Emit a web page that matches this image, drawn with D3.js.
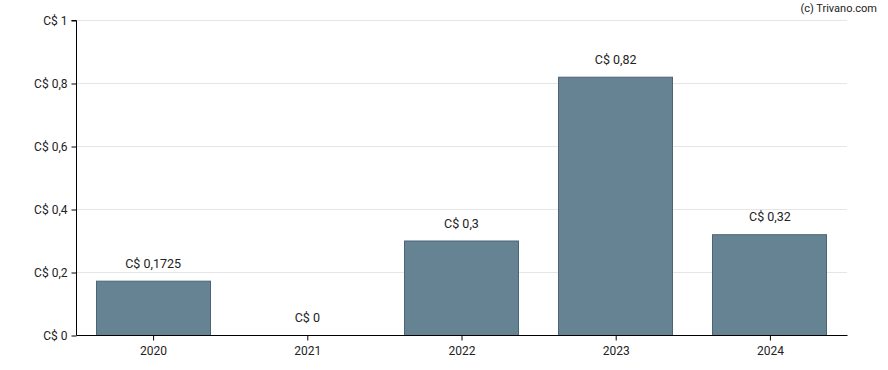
<!DOCTYPE html>
<html>
<head>
<meta charset="utf-8">
<script src="https://cdn.jsdelivr.net/npm/d3@7/dist/d3.min.js"></script>
<style>
	body { margin: 0; background: #fff; }
	text { font-family: Roboto, sans-serif; }
</style>
</head>
<body>
<svg id="chart" width="888" height="370"></svg>
<script>
// data
const years = ['2020', '2021', '2022', '2023', '2024'];
const dividends = [0.1725, 0, 0.3, 0.82, 0.32];
const valueLabels = ['C$ 0,1725', 'C$ 0', 'C$ 0,3', 'C$ 0,82', 'C$ 0,32'];
const yTicks = [0, 0.2, 0.4, 0.6, 0.8, 1];
const yTickLabels = ['C$ 0', 'C$ 0,2', 'C$ 0,4', 'C$ 0,6', 'C$ 0,8', 'C$ 1'];

const margin = { left: 76, right: 847, top: 20, bottom: 335 };

const svg = d3.select('#chart');

const x = d3.scaleBand()
	.domain(years)
	.range([margin.left, margin.right])
	.paddingInner(0.26)
	.paddingOuter(0.13);

const y = d3.scaleLinear()
	.domain([0, 1])
	.range([margin.bottom, margin.top]);

const rows = years.map((year, i) => ({ year, value: dividends[i], label: valueLabels[i] }));

// grid
svg.append('g')
	.selectAll('line')
	.data(yTicks.slice(1))
	.enter()
	.append('line')
	.attr('x1', margin.left)
	.attr('x2', margin.right)
	.attr('y1', d => y(d) + 0.5)
	.attr('y2', d => y(d) + 0.5)
	.style('stroke', '#e6e6e6')
	.style('stroke-width', 1);

// bars
svg.append('g')
	.selectAll('rect')
	.data(rows.filter(d => d.value > 0))
	.enter()
	.append('rect')
	.attr('x', d => Math.floor(x(d.year)) + 0.5)
	.attr('y', d => y(d.value) + 0.5)
	.attr('width', Math.round(x.bandwidth()))
	.attr('height', d => y(0) - y(d.value))
	.style('fill', '#668394')
	.style('stroke', '#4b6577')
	.style('stroke-width', 1);

// value labels
svg.append('g')
	.selectAll('text')
	.data(rows)
	.enter()
	.append('text')
	.attr('x', d => x(d.year) + x.bandwidth() / 2)
	.attr('y', d => y(d.value) - 13)
	.attr('text-anchor', 'middle')
	.style('font-size', '12.5px')
	.style('fill', '#222')
	.text(d => d.label);

// axes
const yAxis = d3.axisLeft(y)
	.tickValues(yTicks)
	.tickFormat((d, i) => yTickLabels[i])
	.tickSize(5)
	.tickPadding(4);

const xAxis = d3.axisBottom(x)
	.tickSize(5)
	.tickPadding(6);

const gy = svg.append('g')
	.attr('transform', `translate(${margin.left + 0.5}, 0.5)`)
	.call(yAxis);
gy.select('.domain').attr('d', `M-5,${y(1)}H0V${y(0)}`);

const gx = svg.append('g')
	.attr('transform', `translate(0.5, ${margin.bottom + 0.5})`)
	.call(xAxis);
gx.select('.domain').attr('d', `M${margin.left},0H${margin.right}`);

svg.selectAll('.tick text')
	.style('font-family', 'Roboto, sans-serif')
	.style('font-size', '12px')
	.style('fill', '#222');
svg.selectAll('.domain, .tick line').style('stroke', '#000');

// credit
svg.append('text')
	.attr('x', 877)
	.attr('y', 12)
	.attr('text-anchor', 'end')
	.style('font-size', '11px')
	.style('fill', '#222')
	.text('(c) Trivano.com');
</script>
</body>
</html>
